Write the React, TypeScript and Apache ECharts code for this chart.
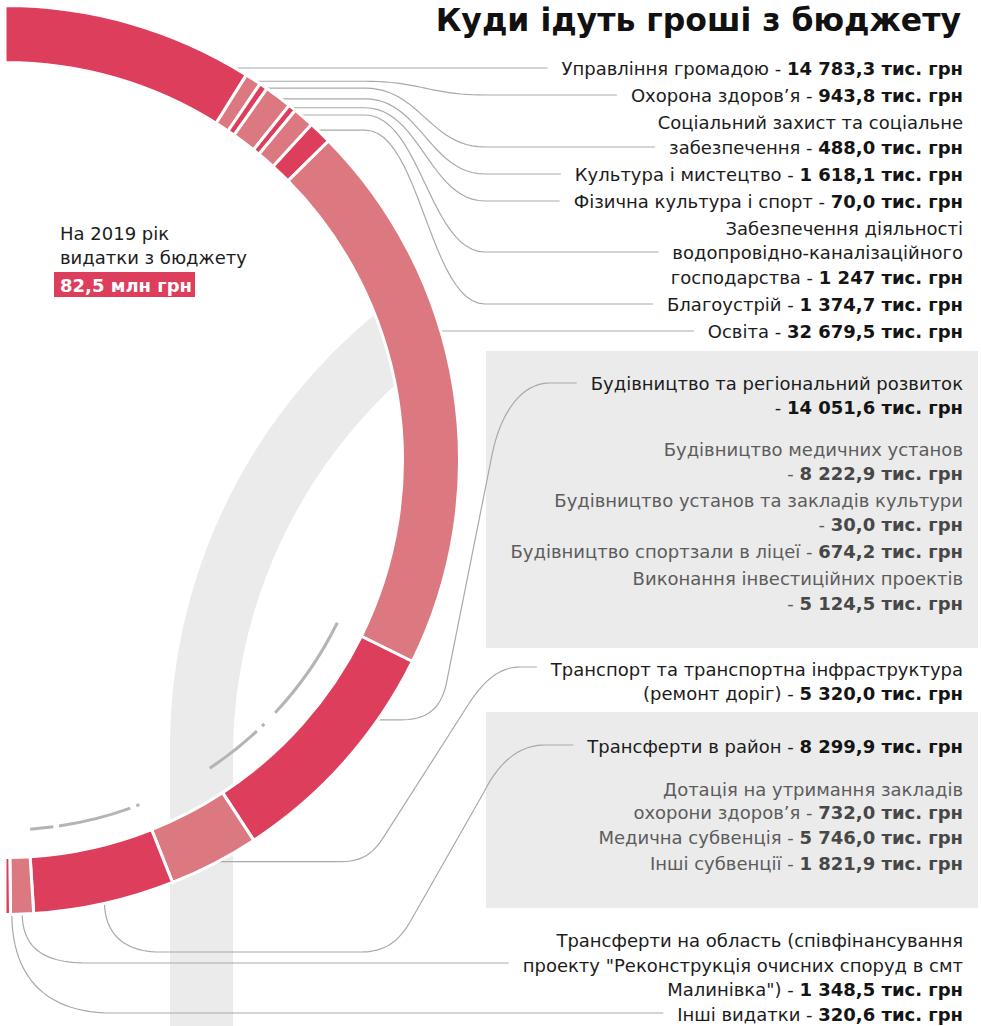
import React, { useEffect, useRef } from 'react';
import * as echarts from 'echarts';

// ---------- data ----------
const title = 'Куди ідуть гроші з бюджету';
const yearText = ['На 2019 рік', 'видатки з бюджету'];
const totalLabel = '82,5 млн грн';
const unit = 'тис. грн';

const categories = [
  'Управління громадою',
  'Охорона здоров’я',
  'Соціальний захист та соціальне забезпечення',
  'Культура і мистецтво',
  'Фізична культура і спорт',
  'Забезпечення діяльності водопровідно-каналізаційного господарства',
  'Благоустрій',
  'Освіта',
  'Будівництво та регіональний розвиток',
  'Транспорт та транспортна інфраструктура (ремонт доріг)',
  'Трансферти в район',
  'Трансферти на область (співфінансування проекту "Реконструкція очисних споруд в смт Малинівка")',
  'Інші видатки',
];
const values = [14783.3, 943.8, 488.0, 1618.1, 70.0, 1247, 1374.7, 32679.5, 14051.6, 5320.0, 8299.9, 1348.5, 320.6];
const valueLabels = ['14 783,3', '943,8', '488,0', '1 618,1', '70,0', '1 247', '1 374,7', '32 679,5', '14 051,6', '5 320,0', '8 299,9', '1 348,5', '320,6'];

const categoryLines = [
  ['Управління громадою'],
  ['Охорона здоров’я'],
  ['Соціальний захист та соціальне', 'забезпечення'],
  ['Культура і мистецтво'],
  ['Фізична культура і спорт'],
  ['Забезпечення діяльності', 'водопровідно-каналізаційного', 'господарства'],
  ['Благоустрій'],
  ['Освіта'],
  ['Будівництво та регіональний розвиток', ''],
  ['Транспорт та транспортна інфраструктура', '(ремонт доріг)'],
  ['Трансферти в район'],
  ['Трансферти на область (співфінансування', 'проекту "Реконструкція очисних споруд в смт', 'Малинівка")'],
  ['Інші видатки'],
];

const constructionSubLines = [
  ['Будівництво медичних установ', ''],
  ['Будівництво установ та закладів культури', ''],
  ['Будівництво спортзали в ліцеї'],
  ['Виконання інвестиційних проектів', ''],
];
const constructionSubValues = ['8 222,9', '30,0', '674,2', '5 124,5'];

const transferSubLines = [
  ['Дотація на утримання закладів', 'охорони здоров’я'],
  ['Медична субвенція'],
  ['Інші субвенції'],
];
const transferSubValues = ['732,0', '5 746,0', '1 821,9'];

// ---------- layout ----------
const W = 981;
const H = 1026;
const CX = 5;
const CY = 460;
const R_OUT = 453;
const R_IN = 399;
const TEXT_RIGHT = 963;
const FONT = '"DejaVu Sans", "Noto Sans", sans-serif';
const FS = 18;
const DARK = '#dd3e5c';
const LIGHT = '#dc7880';
const LINE = '#a9a9a9';
const BOX = '#ebebeb';

const mainLineY = [[68], [95], [122, 147], [174], [201], [228, 252, 277], [304], [331], [383, 407], [669, 693], [746], [940, 965, 989], [1014]];
const constructionSubY = [[449, 473], [500, 524], [551], [578, 603]];
const transferSubY = [[789, 812], [837], [863]];
const leaderLine = [0, 0, 1, 0, 0, 1, 0, 0, 0, 0, 0, 1, 0];
const anchorOverride: Record<number, number> = { 0: 29.8, 7: 73.5, 8: 125 };

let ctx: CanvasRenderingContext2D | null = null;
function measure(text: string, bold: boolean, size = FS) {
  if (!ctx) ctx = document.createElement('canvas').getContext('2d');
  if (!ctx) return text.length * size * 0.55;
  ctx.font = `${bold ? 'bold ' : ''}${size}px ${FONT}`;
  return ctx.measureText(text).width;
}

function parts(lines: string[], idx: number, value: string) {
  const last = idx === lines.length - 1;
  if (!last) return { n: lines[idx], b: '' };
  if (lines[idx] === '') return { n: '- ', b: `${value} ${unit}` };
  return { n: `${lines[idx]} - `, b: `${value} ${unit}` };
}

function textEls(lines: string[], ys: number[], value: string, sub: boolean) {
  return lines.map((_, k) => {
    const p = parts(lines, k, value);
    const txt = p.b ? `{n|${p.n}}{b|${p.b}}` : `{n|${p.n}}`;
    return {
      type: 'text',
      z: 5,
      x: TEXT_RIGHT,
      y: ys[k],
      style: {
        text: txt,
        align: 'right',
        verticalAlign: 'middle',
        rich: {
          n: { fontFamily: FONT, fontSize: FS, fontWeight: 'normal', fill: sub ? '#5c5c5c' : '#1c1c1c' },
          b: { fontFamily: FONT, fontSize: FS, fontWeight: 'bold', fill: sub ? '#474747' : '#141414' },
        },
      },
    };
  });
}

function lineWidth(lines: string[], idx: number, value: string) {
  const p = parts(lines, idx, value);
  return measure(p.n, false) + (p.b ? measure(p.b, true) : 0);
}

type Cmd = (string | number)[];
function samplePath(cmds: Cmd[]) {
  const pts: number[][] = [];
  let cx = 0, cy = 0;
  cmds.forEach((c) => {
    if (c[0] === 'M' || c[0] === 'L') {
      cx = c[1] as number; cy = c[2] as number;
      pts.push([cx, cy]);
    } else if (c[0] === 'C') {
      const [x1, y1, x2, y2, x, y] = c.slice(1) as number[];
      for (let s = 1; s <= 24; s++) {
        const t = s / 24, u = 1 - t;
        pts.push([
          u * u * u * cx + 3 * u * u * t * x1 + 3 * u * t * t * x2 + t * t * t * x,
          u * u * u * cy + 3 * u * u * t * y1 + 3 * u * t * t * y2 + t * t * t * y,
        ]);
      }
      cx = x; cy = y;
    }
  });
  return pts;
}

const total = values.reduce((a, b) => a + b, 0);
function anchor(i: number) {
  let cum = 0;
  for (let k = 0; k < i; k++) cum += values[k];
  const a = anchorOverride[i] ?? ((cum + values[i] / 2) / total) * 180;
  const r = (a * Math.PI) / 180;
  return { x: CX + R_OUT * Math.sin(r), y: CY - R_OUT * Math.cos(r) };
}

function leaderCmds(i: number): Cmd[] {
  const { x: ax, y: ay } = anchor(i);
  const ty = mainLineY[i][leaderLine[i]];
  const ex = TEXT_RIGHT - lineWidth(categoryLines[i], leaderLine[i], valueLabels[i]) - 14;
  if (i <= 7) {
    if (Math.abs(ay - ty) < 3) return [['M', ax - 25, ty], ['L', ex, ty]];
    return [['M', ax - 25, ay], ['L', 365, ay], ['C', 420, ay, 430, ty, 485, ty], ['L', ex, ty]];
  }
  if (i === 8) {
    return [['M', ax - 30, ay], ['L', ax + 25, ay], ['C', ax + 55, ay, ax + 65, ay - 15, ax + 70, ay - 35], ['L', 492, 455], ['C', 500, 415, 520, ty, 550, ty], ['L', ex, ty]];
  }
  if (i === 9) {
    return [['M', ax - 30, ay], ['L', 340, ay], ['C', 362, ay, 372, ay - 8, 382, ay - 22], ['L', 468, 705], ['C', 482, 683, 498, ty - 2, 520, ty - 2], ['L', ex, ty - 2]];
  }
  if (i === 10) {
    return [['M', ax, ay - 25], ['L', ax, ay], ['C', ax, ay + 32, ax + 20, 952, ax + 55, 952], ['L', 360, 952], ['C', 385, 952, 398, 942, 410, 922], ['L', 484, 792], ['C', 496, 768, 515, ty - 1, 545, ty - 1], ['L', ex, ty - 1]];
  }
  if (i === 11) {
    return [['M', ax, ay - 20], ['L', ax, ay], ['C', ax, ay + 38, ax + 25, ty - 2, ax + 65, ty - 2], ['L', ex, ty - 2]];
  }
  return [['M', ax + 4, ay - 20], ['L', ax + 4, ay], ['C', ax + 4, ay + 70, ax + 44, ty - 1, ax + 104, ty - 1], ['L', ex, ty - 1]];
}

function bandPoints() {
  const pts: number[][] = [[170, H]];
  for (let d = 180; d <= 232; d += 1) {
    const r = (d * Math.PI) / 180;
    pts.push([731 + 561 * Math.cos(r), 748 + 561 * Math.sin(r)]);
  }
  for (let d = 232; d >= 180; d -= 1) {
    const r = (d * Math.PI) / 180;
    pts.push([741 + 508 * Math.cos(r), 757 + 508 * Math.sin(r)]);
  }
  pts.push([233, H]);
  return pts;
}

const dashSegments = [[26.1, 43.1], [45.5, 46.0], [47.1, 56.4], [68.7, 69.2], [70.2, 81.6], [82.5, 86.1]];

export default function App() {
  const ref = useRef<HTMLDivElement>(null);
  useEffect(() => {
    const el = ref.current;
    if (!el) return;
    const chart = echarts.init(el, undefined, { renderer: 'svg' });

    const graphics: any[] = [];
    graphics.push({ type: 'polygon', z: 0, shape: { points: bandPoints() }, style: { fill: BOX } });
    graphics.push({ type: 'rect', z: 0, shape: { x: 486, y: 351, width: 492, height: 297 }, style: { fill: BOX } });
    graphics.push({ type: 'rect', z: 0, shape: { x: 486, y: 712, width: 492, height: 196 }, style: { fill: BOX } });
    dashSegments.forEach(([a, b]) => {
      graphics.push({
        type: 'arc', z: 1,
        shape: { cx: CX, cy: CY, r: 370, startAngle: (a * Math.PI) / 180, endAngle: (b * Math.PI) / 180, clockwise: true },
        style: { stroke: '#b4b4b4', lineWidth: 3, fill: null },
      });
    });
    categories.forEach((_, i) => {
      graphics.push({
        type: 'polyline', z: 1,
        shape: { points: samplePath(leaderCmds(i)) },
        style: { stroke: LINE, lineWidth: 1.2, fill: null },
      });
    });
    categoryLines.forEach((lines, i) => {
      graphics.push(...textEls(lines, mainLineY[i], valueLabels[i], false));
    });
    constructionSubLines.forEach((lines, i) => {
      graphics.push(...textEls(lines, constructionSubY[i], constructionSubValues[i], true));
    });
    transferSubLines.forEach((lines, i) => {
      graphics.push(...textEls(lines, transferSubY[i], transferSubValues[i], true));
    });
    graphics.push({
      type: 'text', z: 5, x: 961, y: 20,
      style: { text: title, align: 'right', verticalAlign: 'middle', fontFamily: FONT, fontSize: 31.5, fontWeight: 'bold', fill: '#111' },
    });
    yearText.forEach((t, k) => {
      graphics.push({
        type: 'text', z: 5, x: 60, y: 233 + k * 24,
        style: { text: t, align: 'left', verticalAlign: 'middle', fontFamily: FONT, fontSize: FS, fill: '#1c1c1c' },
      });
    });
    graphics.push({ type: 'rect', z: 5, shape: { x: 54, y: 272, width: 141, height: 25 }, style: { fill: DARK } });
    graphics.push({
      type: 'text', z: 6, x: 60, y: 285,
      style: { text: totalLabel, align: 'left', verticalAlign: 'middle', fontFamily: FONT, fontSize: 18, fontWeight: 'bold', fill: '#fff' },
    });

    chart.setOption({
      animation: false,
      backgroundColor: '#fff',
      series: [
        {
          type: 'pie',
          z: 2,
          center: [CX, CY],
          radius: [R_IN - 1.5, R_OUT + 1.5],
          startAngle: 90,
          endAngle: -90,
          clockwise: true,
          minAngle: 1,
          silent: true,
          label: { show: false },
          labelLine: { show: false },
          emphasis: { disabled: true },
          itemStyle: { borderColor: '#fff', borderWidth: 3 },
          data: categories.map((name, i) => ({
            name,
            value: values[i],
            itemStyle: { color: i % 2 === 0 ? DARK : LIGHT },
          })),
        },
      ],
      graphic: { elements: graphics },
    });
    return () => chart.dispose();
  }, []);
  return <div ref={ref} style={{ position: 'absolute', left: 0, top: 0, width: W, height: H }} />;
}
